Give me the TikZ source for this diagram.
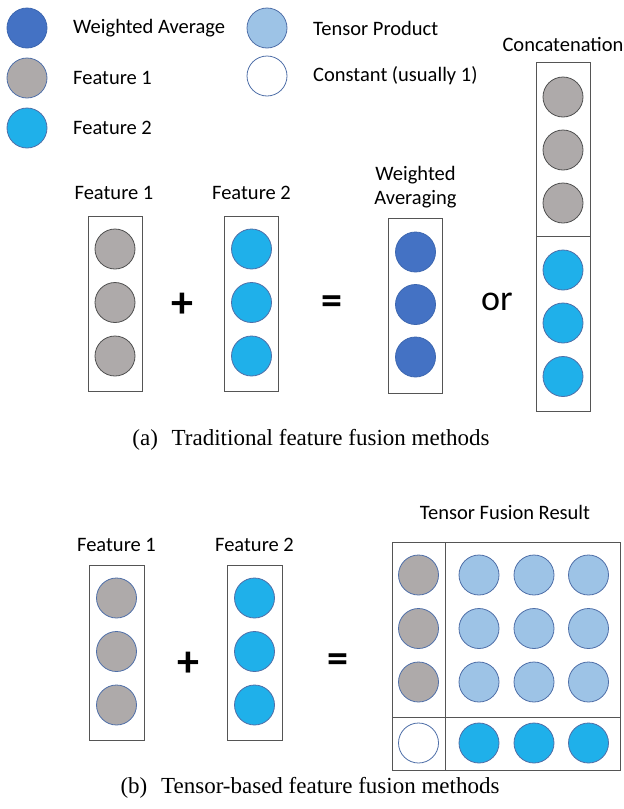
\documentclass[tikz,border=0pt]{standalone}
\usepackage{fontspec}
\setmainfont{Liberation Serif}
\newfontfamily\labfont{Carlito}
\definecolor{wavg}{HTML}{4472C4}
\definecolor{featA}{HTML}{AEAAAA}
\definecolor{featB}{HTML}{1FB0EA}
\definecolor{tens}{HTML}{9DC3E6}
\definecolor{edgeblue}{HTML}{4F6FA8}
\definecolor{edgegray}{HTML}{505050}
\definecolor{boxline}{HTML}{555555}
\tikzset{
  dot/.style={circle, minimum size=40pt, inner sep=0pt, line width=0.8pt},
  dotW/.style={dot, fill=wavg, draw=wavg!90!black},
  dotA/.style={dot, fill=featA, draw=edgeblue},
  dotAk/.style={dot, fill=featA, draw=edgegray},
  dotB/.style={dot, fill=featB, draw=edgeblue},
  dotT/.style={dot, fill=tens, draw=edgeblue},
  dotC/.style={dot, fill=white, draw=edgeblue},
  lab/.style={font=\labfont\fontsize{20.5}{24}\selectfont, inner sep=0pt},
  sym/.style={font=\labfont\bfseries\fontsize{44}{46}\selectfont, inner sep=0pt},
  symeq/.style={font=\labfont\bfseries\fontsize{42}{44}\selectfont, inner sep=0pt},
  captext/.style={font=\fontsize{23}{27}\selectfont, inner sep=0pt},
  vbox/.style={draw=boxline, line width=0.9pt, minimum width=54pt, minimum height=175pt, inner sep=0pt},
  divline/.style={draw=boxline, line width=0.9pt},
}
\begin{document}
\begin{tikzpicture}[x=1pt,y=-1pt]
\useasboundingbox (0,0) rectangle (624,809);
% legend
\node[dotW] (lw) at (27,28) {};
\node[dotAk, draw=edgeblue] (lf1) at (27,78) {};
\node[dotB] (lf2) at (27,128) {};
\node[lab, anchor=west] (tw) at (73,28) {Weighted Average};
\node[lab, anchor=west] (tf1) at (73,78) {Feature 1};
\node[lab, anchor=west] (tf2) at (73,128) {Feature 2};
\node[dotT] (lt) at (267,28) {};
\node[dotC] (lc) at (267,76) {};
\node[lab, anchor=west] (tt) at (313,28) {Tensor Product};
\node[lab, anchor=west] (tc) at (313,76) {Constant (usually 1)};

% (a)
\node[lab] (la1) at (114,193) {Feature 1};
\node[lab] (la2) at (251.5,193) {Feature 2};
\node[vbox] (ba1) at (115,303.5) {};
\node[vbox] (ba2) at (251.5,303.5) {};
\foreach \y [count=\i] in {249,302.5,356}{
  \node[dotAk] (a1c\i) at (115,\y) {};
  \node[dotB] (a2c\i) at (251.5,\y) {};
}
\node[sym] (plusa) at (182,305) {+};
\node[symeq] (eqa) at (332,305) {=};
\node[lab, align=center] (lwa) at (415.5,187) {Weighted\\Averaging};
\node[vbox] (bwa) at (415.5,305.5) {};
\foreach \y [count=\i] in {252,304.5,357}{
  \node[dotW] (wc\i) at (415.5,\y) {};
}
\node[font=\labfont\fontsize{36}{38}\selectfont, inner sep=0pt] (ora) at (497,302) {or};
\node[lab] (lcat) at (563,44) {Concatenation};
\node[draw=boxline, line width=0.9pt, minimum width=54pt, minimum height=349pt, inner sep=0pt] (bcat) at (563,237.2) {};
\coordinate (catL) at (536,236);
\coordinate (catR) at (590,236);
\draw[divline] (catL) -- (catR);
\foreach \y [count=\i] in {97,150,203}{
  \node[dotAk] (cg\i) at (563,\y) {};
}
\foreach \y [count=\i] in {270,323,376.5}{
  \node[dotB] (cb\i) at (563,\y) {};
}
\node[captext] (capa) at (311,440) {(a)\hspace{0.35em} Traditional feature fusion methods};

% (b)
\node[lab] (lb1) at (116.5,545) {Feature 1};
\node[lab] (lb2) at (254.5,545) {Feature 2};
\node[vbox, minimum width=55pt] (bb1) at (116.5,652.5) {};
\node[vbox, minimum width=55pt] (bb2) at (254.5,652.5) {};
\foreach \y [count=\i] in {598,651.5,705}{
  \node[dotA] (b1c\i) at (116.5,\y) {};
  \node[dotB] (b2c\i) at (254.5,\y) {};
}
\node[sym] (plusb) at (188,664) {+};
\node[symeq] (eqb) at (338,663) {=};
\node[lab] (ltf) at (505,512) {Tensor Fusion Result};
\node[draw=boxline, line width=0.9pt, minimum width=228pt, minimum height=228pt, inner sep=0pt] (bt) at (506,656) {};
\coordinate (tvT) at (445,542);
\coordinate (tvB) at (445,770);
\coordinate (thL) at (392,717);
\coordinate (thR) at (620,717);
\draw[divline] (tvT) -- (tvB);
\draw[divline] (thL) -- (thR);
\foreach \y [count=\i] in {575,628.5,682}{
  \node[dotA] (tg\i) at (418.5,\y) {};
  \foreach \x [count=\j] in {479,534,588.5}{
    \node[dotT] (tp\i\j) at (\x,\y) {};
  }
}
\node[dotC] (tone) at (418.5,743) {};
\foreach \x [count=\j] in {479,534,588.5}{
  \node[dotB] (tb\j) at (\x,743) {};
}
\node[captext] (capb) at (310,788) {(b)\hspace{0.35em} Tensor-based feature fusion methods};
\end{tikzpicture}
\end{document}
